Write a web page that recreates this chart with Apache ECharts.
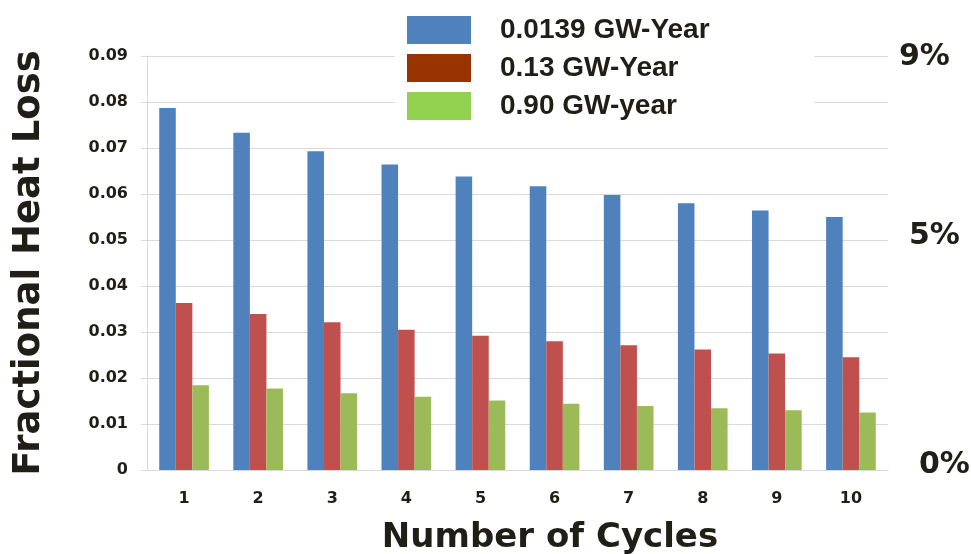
<!DOCTYPE html>
<html>
<head>
<meta charset="utf-8">
<script src="https://cdn.jsdelivr.net/npm/echarts@6/dist/echarts.min.js"></script>
<style>
html,body{margin:0;padding:0;background:#fff;}
#chart{width:971px;height:554px;}
</style>
</head>
<body>
<div id="chart"></div>
<script>
const categories = ['1','2','3','4','5','6','7','8','9','10'];
const seriesNames = ['0.0139 GW-Year', '0.13 GW-Year', '0.90 GW-year'];
const loss00139 = [0.0787, 0.0733, 0.0693, 0.0664, 0.0638, 0.0617, 0.0598, 0.0580, 0.0564, 0.0550];
const loss013 = [0.0363, 0.0339, 0.0321, 0.0305, 0.0292, 0.0280, 0.0271, 0.0262, 0.0253, 0.0245];
const loss090 = [0.0184, 0.0177, 0.0167, 0.0159, 0.0151, 0.0144, 0.0139, 0.0134, 0.0130, 0.0125];
const rightLabels = ['9%', '5%', '0%'];
const yAxisTitle = 'Fractional Heat Loss';
const xAxisTitle = 'Number of Cycles';

const barColors = ['#4F81BD', '#C0504D', '#9BBB59'];
const legendColors = ['#4F81BD', '#993300', '#92D050'];
const txt = '#1f1f17';

const chart = echarts.init(document.getElementById('chart'));
chart.setOption({
  backgroundColor: '#fff',
  animation: false,
  grid: {left: 147, right: 83, top: 56, bottom: 84},
  legend: {
    orient: 'vertical',
    left: 395, top: 4,
    padding: [12, 105, 8, 12],
    backgroundColor: '#fff',
    itemWidth: 64, itemHeight: 28, itemGap: 10,
    textStyle: {fontSize: 28, fontWeight: 'bold', color: txt, fontFamily: 'Liberation Sans', padding: [0,0,0,24]},
    data: seriesNames.map((n, i) => ({name: n, icon: 'rect', itemStyle: {color: legendColors[i]}}))
  },
  xAxis: {
    type: 'category', data: categories,
    axisLine: {lineStyle: {color: '#d9d9d9'}},
    axisTick: {show: false},
    axisLabel: {margin: 21, fontSize: 16, fontWeight: 'bold', color: txt, fontFamily: 'DejaVu Sans'}
  },
  yAxis: {
    type: 'value', min: 0, max: 0.09, interval: 0.01,
    axisLine: {show: true, lineStyle: {color: '#d9d9d9'}},
    axisTick: {show: true, length: 6, lineStyle: {color: '#d9d9d9'}},
    splitLine: {lineStyle: {color: '#d9d9d9'}},
    axisLabel: {margin: 19, fontSize: 16, fontWeight: 'bold', color: txt, fontFamily: 'DejaVu Sans',
      formatter: v => v === 0 ? '0' : v.toFixed(2)}
  },
  series: [loss00139, loss013, loss090].map((d, i) => ({
    name: seriesNames[i], type: 'bar', data: d,
    barGap: '0%', barCategoryGap: '33%',
    itemStyle: {color: barColors[i]}
  })),
  graphic: [
    {type: 'text', x: 899, y: 57, style: {text: rightLabels[0], font: 'bold 30px "DejaVu Sans"', fill: txt, textVerticalAlign: 'middle'}},
    {type: 'text', x: 909, y: 236, style: {text: rightLabels[1], font: 'bold 30px "DejaVu Sans"', fill: txt, textVerticalAlign: 'middle'}},
    {type: 'text', x: 919, y: 465, style: {text: rightLabels[2], font: 'bold 30px "DejaVu Sans"', fill: txt, textVerticalAlign: 'middle'}},
    {type: 'text', x: 29, y: 263, rotation: Math.PI/2,
      style: {text: yAxisTitle, font: 'bold 37px "DejaVu Sans"', fill: txt, textAlign: 'center', textVerticalAlign: 'middle'}},
    {type: 'text', x: 550, y: 538,
      style: {text: xAxisTitle, font: 'bold 34px "DejaVu Sans"', fill: txt, textAlign: 'center', textVerticalAlign: 'middle'}}
  ]
});
</script>
</body>
</html>
